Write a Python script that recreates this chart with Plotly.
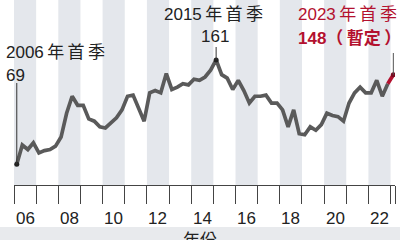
import plotly.graph_objects as go

# ---- data ----
start_year = 2006
years = list(range(2006, 2024))
tick_labels = ["06", "08", "10", "12", "14", "16", "18", "20", "22"]
label_years = [2006, 2008, 2010, 2012, 2014, 2016, 2018, 2020, 2022]
values = [69, 86, 82, 88, 79, 81, 82, 85,
          93, 114, 129, 121, 121, 109, 107, 102,
          101, 106, 110, 117, 129, 130, 118, 107,
          132, 134, 132, 149, 135, 137, 140, 139,
          144, 143, 146, 152, 161, 148, 145, 135,
          143, 134, 123, 129, 129, 130, 123, 123,
          117, 102, 117, 96, 95, 102, 99, 104,
          114, 112, 111, 107, 123, 132, 137, 132,
          132, 143, 129, 140, 148]
quarters = [start_year + i / 4 + 0.125 for i in range(len(values))]

GRAY_LINE = "#5a5a5a"
RED = "#b3112f"
TEXT = "#222222"
FONT = "Liberation Sans, Noto Sans CJK TC, sans-serif"
TS = "\u2009"

X0PX, X1PX, AXPX = 14, 395, 185
def px(x):
    return x / 400
def py(y):
    return (AXPX - y) / AXPX

fig = go.Figure()

fig.add_trace(go.Scatter(x=quarters[:-1], y=values[:-1], mode="lines",
                         line=dict(color=GRAY_LINE, width=3.7), hoverinfo="skip"))
fig.add_trace(go.Scatter(x=quarters[-2:], y=values[-2:], mode="lines",
                         line=dict(color=RED, width=3.7), hoverinfo="skip"))

i_peak = values.index(max(values))
for idx, top, col in [(0, 83, "#333333"), (i_peak, 47, "#333333"), (len(values) - 1, 53, "#555555")]:
    fig.add_shape(type="line", xref="x", yref="y", x0=quarters[idx], x1=quarters[idx],
                  y0=values[idx], y1=50.7 + (AXPX - top) / 1.1337,
                  line=dict(color=col, width=1), layer="above")
fig.add_trace(go.Scatter(x=[quarters[0], quarters[i_peak]], y=[values[0], values[i_peak]],
                         mode="markers", marker=dict(color="#222222", size=5), hoverinfo="skip"))
fig.add_trace(go.Scatter(x=[quarters[-1]], y=[values[-1]], mode="markers",
                         marker=dict(color="#7a0c22", size=5), hoverinfo="skip"))

for yr in years:
    if yr % 2 == 0 and yr < 2023:
        fig.add_shape(type="rect", xref="x", yref="paper", x0=yr, x1=yr + 1, y0=0, y1=1,
                      fillcolor="#e4e7ec", line=dict(width=0), layer="below")

fig.add_shape(type="rect", xref="paper", yref="paper", x0=-0.1, x1=1.1,
              y0=py(227), y1=py(260), fillcolor="#e8eaed", line=dict(width=0), layer="below")

ann = []
for lab, yr in zip(tick_labels, label_years):
    ann.append(dict(x=yr + 0.5, xref="x", y=py(218), yref="paper", text=lab,
                    showarrow=False, font=dict(size=17, color=TEXT, family=FONT),
                    xanchor="center", yanchor="middle"))
ann.append(dict(x=px(200), xref="paper", y=py(240), yref="paper", text="年份",
                showarrow=False, font=dict(size=17, color=TEXT, family=FONT),
                xanchor="center", yanchor="middle"))

def txt(x, y, s, color=TEXT, anchor="left"):
    ann.append(dict(x=px(x), xref="paper", y=py(y), yref="paper", text=s, showarrow=False,
                    font=dict(size=17, color=color, family=FONT), xanchor=anchor,
                    align=anchor if anchor != "center" else "center",
                    yanchor="middle", borderpad=0))

txt(5, 52, "2006" + TS + "年" + TS + "首" + TS + "季")
txt(5, 75, "69")
txt(163, 14.5, "2015" + TS + "年" + TS + "首" + TS + "季")
txt(215, 37, "161", anchor="center")
txt(297, 15, "2023" + TS + "年" + TS + "首" + TS + "季", color=RED)
txt(297, 38, "<b>148（" + TS + "暫定" + TS + "）</b>", color=RED)

fig.update_layout(
    width=400, height=240, margin=dict(l=0, r=0, t=0, b=55),
    paper_bgcolor="white", plot_bgcolor="white", showlegend=False,
    annotations=ann,
    xaxis=dict(domain=[X0PX / 400, X1PX / 400], range=[2006, 2023.2],
               tickvals=years + [2023.2], ticks="outside", ticklen=18, tickwidth=1,
               tickcolor="#444444", showticklabels=False, showline=True,
               linecolor="#444444", linewidth=1, showgrid=False, zeroline=False,
               fixedrange=True),
    yaxis=dict(range=[50.7, 213.9], visible=False, fixedrange=True),
)

fig.write_html("out.html", config={"displayModeBar": False})
